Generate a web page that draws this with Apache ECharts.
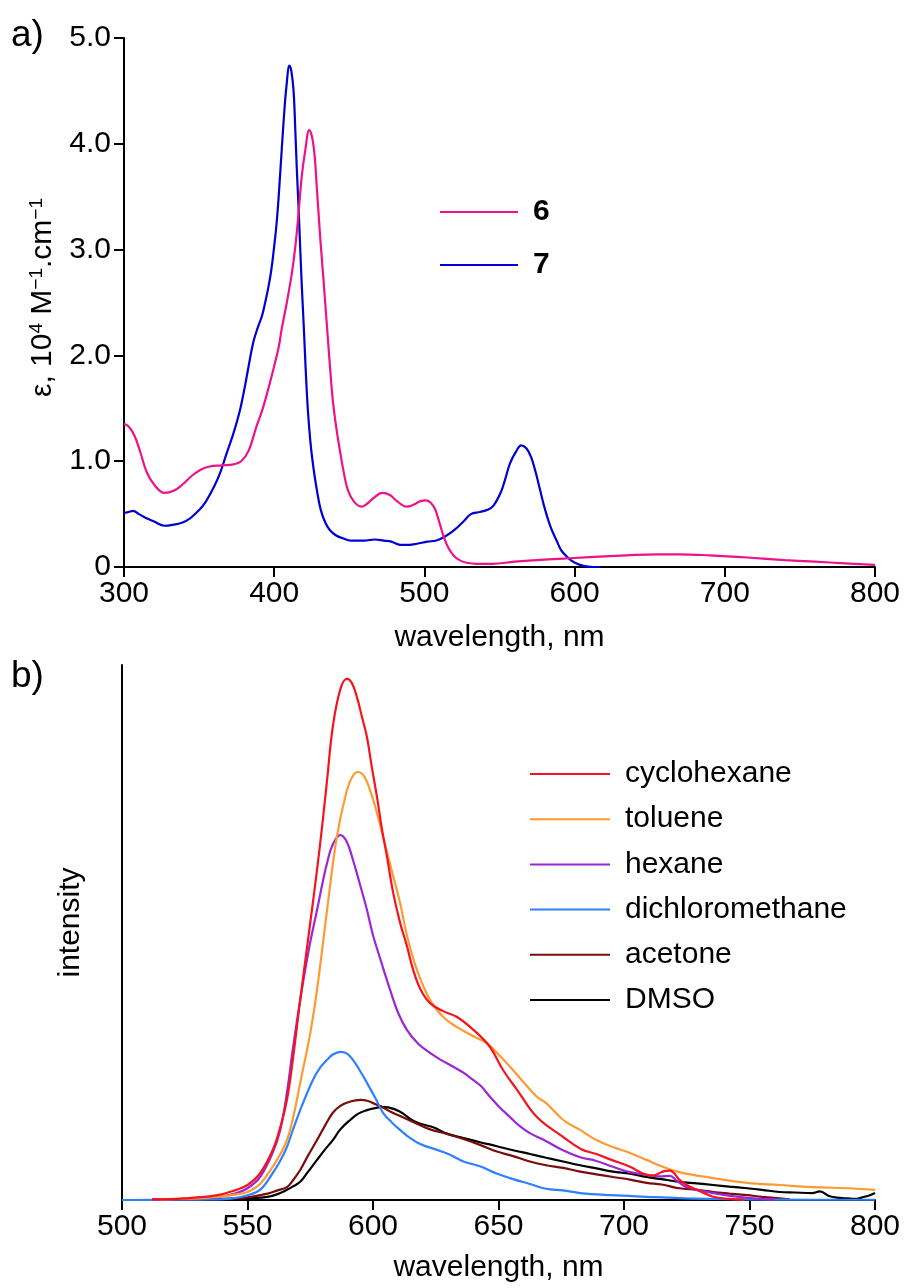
<!DOCTYPE html>
<html>
<head>
<meta charset="utf-8">
<script src="https://cdn.jsdelivr.net/npm/echarts@6/dist/echarts.min.js"></script>
<style>
html,body{margin:0;padding:0;background:#fff;}
#chart{width:906px;height:1288px;}
</style>
</head>
<body>
<div id="chart"></div>
<script>
// ---------- Panel a: absorption (epsilon, 10^4 M^-1 cm^-1) ----------
const absTicksX = [300, 400, 500, 600, 700, 800];
const absTicksY = [0, 1, 2, 3, 4, 5];

const s6_nm = [300,303,307,311,315,320,327,333,339,345,351,357,365,373,378,383,388,392,396,400,403,405,408.4,411.8,414,416,418.4,420.7,423.3,426.2,428.4,430.7,432.9,435,437,439,441.5,444,446.5,449,453,458,462,466,472,477,482,488,493,497,501,504,507,510,513,516,520,524,528,535,545,560,580,600,620,640,655,670,690,715,740,760,780,800];
const s6_eps = [1.35,1.33,1.24,1.08,0.90,0.78,0.70,0.72,0.78,0.86,0.92,0.95,0.96,0.97,1.00,1.10,1.32,1.48,1.68,1.90,2.08,2.25,2.50,2.78,3.02,3.31,3.70,3.94,4.13,3.98,3.58,3.10,2.70,2.30,1.92,1.58,1.30,1.08,0.88,0.73,0.62,0.57,0.60,0.65,0.70,0.68,0.62,0.57,0.59,0.62,0.63,0.61,0.55,0.42,0.28,0.18,0.10,0.06,0.04,0.03,0.03,0.05,0.07,0.085,0.10,0.115,0.12,0.12,0.11,0.09,0.065,0.05,0.035,0.02];

const s7_nm = [300,303,306,310,315,320,327,333,339,344,348,352,355,360,364,368,373,377,380,383,386,389,392,394,396.2,398,399.5,401.8,404,406.2,408.2,410.2,411.5,412.9,414,415,416.2,417.3,418.4,419.5,422,424,426,428.5,431,434,437,441,446,451,460,467,473,478,484,490,495,502,508,514,520,526,531,537,542,546,551,554,557,561,564.5,568,571,574,577,580,584,588,591,594,597,601,606,612,617];
const s7_eps = [0.51,0.52,0.53,0.50,0.46,0.43,0.39,0.40,0.42,0.46,0.51,0.57,0.63,0.76,0.89,1.06,1.27,1.47,1.67,1.90,2.12,2.26,2.38,2.50,2.65,2.80,2.97,3.28,3.72,4.20,4.55,4.74,4.68,4.50,4.15,3.78,3.40,3.02,2.65,2.33,1.58,1.20,0.95,0.72,0.54,0.42,0.35,0.30,0.27,0.25,0.25,0.26,0.25,0.24,0.21,0.21,0.22,0.24,0.25,0.29,0.35,0.43,0.50,0.52,0.54,0.58,0.71,0.84,0.98,1.09,1.15,1.12,1.04,0.90,0.73,0.56,0.38,0.25,0.16,0.11,0.07,0.035,0.01,0.0,0.0];

// ---------- Panel b: emission (intensity, arbitrary units) ----------
const emTicksX = [500, 550, 600, 650, 700, 750, 800];
const solvents = ['cyclohexane','toluene','hexane','dichloromethane','acetone','DMSO'];

const cyclohexane_nm = [512,525,538,545,550,555,560,563,565.7,568,571,574.5,577.7,580,581.7,584,587,589.6,591.5,593.6,595.5,597.6,599.5,601.6,603.5,605.6,608,610.8,613.5,616,619,622.7,628,633.5,640,646.6,651.8,657.4,665.3,675.7,683,689,695,702.4,709,712,714,716,718.3,720,722,725,729,735.5,742,748];
const cyclohexane_I = [0.1,0.3,0.9,1.8,2.8,5.0,9.3,13.5,18.7,26,37.4,50,61.7,71,78.5,88.5,95.5,97.4,96.7,94.0,90.5,86.5,81,75.3,69.5,64.1,57.5,51.8,47.5,43.0,39.3,36.8,35.3,34.2,31.8,28.6,24.3,20.6,15.5,11.8,9.5,8.6,7.5,6.2,4.7,4.6,5.0,5.4,5.5,5.0,3.8,2.8,1.9,0.6,0.2,0.0];

const toluene_nm = [515,530,538,545,550,555,560,563,565.7,568,571,575,577.7,581.7,585.6,589.6,592,594,596.5,598.8,601.5,604,607.5,610.8,613.5,617.5,622.7,628,633.5,640,645.4,650,654.6,660,665.3,669,675.7,682.5,689,695.6,702.4,709,715,722,735.5,749,762,775,789,800];
const toluene_I = [0.1,0.3,0.6,1.0,1.5,3.0,6.2,8.5,11.2,15,21.9,31.2,39.3,54.2,67.9,76.6,79.3,80.0,79.2,76.6,72.5,67.9,61.5,55.5,49.5,43.0,37.4,34.2,32.3,30.6,29.3,27.2,24.9,22,19.3,18.1,15.0,13.1,11.2,9.9,8.8,7.5,6.3,5.2,4.1,3.2,2.8,2.4,2.2,1.9];

const hexane_nm = [512,530,540,545,550,555,560,563,565.7,568,571,574.5,577.7,580,581.7,584,587,589.5,592,594.5,597.6,600,603,606.8,610,613.5,618,622.7,627,632,636,640,643,646.6,650.5,654.6,658.5,662.5,669,675.7,682.5,689,695.6,702.4,709,714,718.3,721,725,735.5,749,760];
const hexane_I = [0.1,0.3,0.7,1.2,2.2,4.3,8.8,13,20.0,28,37.4,47,54.2,59.5,63,66.5,68.2,67,63.6,59.5,54.2,49.5,44.9,39.3,35,31.8,29.2,27.5,26.2,24.9,23.8,22.4,21.3,19.3,17.3,15.5,13.8,12.5,11.0,9.3,8.0,7.3,6.2,5.2,4.7,4.4,4.5,3.6,2.4,1.3,0.4,0.1];

const dichloromethane_nm = [500,520,535,544,550,555,560,563,565.7,568,571,576,579,581.7,584,587,589.5,592,594.5,597.6,601,604,607.5,610.8,614.7,619,624,630,636,642.6,649,655.8,662.5,669,675.7,682.5,695,709,722,735.5,750,775,800];
const dichloromethane_I = [0,0.05,0.1,0.3,0.9,1.9,5.0,7.3,9.9,13,16.8,22.4,24.8,26.2,27.2,27.7,27.4,26.2,24.4,21.9,19,16.3,14.5,13.1,11.6,10.4,9.6,8.6,7.2,6.3,5.0,3.9,3.0,2.1,1.8,1.3,0.9,0.6,0.35,0.2,0.1,0.05,0.05];

const acetone_nm = [512,530,545,550,558,562,565.7,568,571,574,577.7,581,584,587,591,595,598,601,604,607,610.8,616,622.7,629,636,642.6,649,655.8,662.5,669,675.7,682.5,689,695.6,702.4,709,715,722,729,735.5,742,749,755,762,766];
const acetone_I = [0.05,0.15,0.3,0.5,1.2,1.8,2.4,3.6,5.6,8.2,11.2,14.0,16.3,17.6,18.4,18.7,18.5,17.9,17.3,16.5,15.7,14.6,13.2,12.4,11.4,10.3,9.1,8.2,7.2,6.5,6.0,5.3,4.8,4.3,3.8,3.2,2.9,2.2,1.9,1.5,1.2,0.9,0.6,0.3,0.1];

const dmso_nm = [512,530,545,550,558,562,565.7,568,571,574,577.7,581,584,587,591,594,597.6,601,603.5,606,610.8,616,620,624,629.5,636,642.6,649,655.8,662.5,669,675.7,682.5,689,695.6,702.4,709,715,722,729,735.5,742,749,755,762,768,775,778,782,786,789,792,795,798,800];
const dmso_I = [0.05,0.1,0.2,0.3,0.6,1.1,1.9,2.5,3.4,5.2,7.5,9.5,11.2,13.2,15.0,16.1,16.8,17.2,17.4,17.3,16.5,14.8,14.1,13.6,12.4,11.6,10.8,10.1,9.3,8.6,7.9,7.2,6.5,5.9,5.3,4.9,4.3,3.9,3.4,3.1,2.8,2.5,2.2,1.9,1.5,1.4,1.3,1.6,0.7,0.4,0.3,0.2,0.5,0.9,1.3];

// ---------- build ----------
const zip = (xs, ys) => xs.map((x, i) => [x, ys[i]]);
const FONT = '"Liberation Sans", Arial, Helvetica, sans-serif';

const emData = {
  cyclohexane: zip(cyclohexane_nm, cyclohexane_I),
  toluene: zip(toluene_nm, toluene_I),
  hexane: zip(hexane_nm, hexane_I),
  dichloromethane: zip(dichloromethane_nm, dichloromethane_I),
  acetone: zip(acetone_nm, acetone_I),
  DMSO: zip(dmso_nm, dmso_I)
};
const emColors = {
  cyclohexane: '#f5141e',
  toluene: '#ff9a33',
  hexane: '#9b26d6',
  dichloromethane: '#2f80ff',
  acetone: '#7a0c0c',
  DMSO: '#000000'
};

const axisLineStyle = { show: true, lineStyle: { color: '#000', width: 2 } };
const tickStyle = { show: true, inside: false, length: 10, lineStyle: { color: '#000', width: 2 } };
const labelStyle = { fontSize: 30, color: '#000', fontFamily: FONT };

const chart = echarts.init(document.getElementById('chart'), null, { renderer: 'canvas' });

const lineSeries = (name, data, color, xi, yi, z) => ({
  name, type: 'line', data, xAxisIndex: xi, yAxisIndex: yi,
  showSymbol: false, symbol: 'none', smooth: 0.4, z: z,
  lineStyle: { color, width: 2.2 }, itemStyle: { color },
  emphasis: { disabled: true }, animation: false
});

const option = {
  backgroundColor: '#fff',
  animation: false,
  textStyle: { fontFamily: FONT },
  grid: [
    { left: 124, right: 31, top: 38, height: 529 },
    { left: 122, right: 31, top: 665, height: 535 }
  ],
  xAxis: [
    {
      gridIndex: 0, type: 'value', min: absTicksX[0], max: absTicksX[absTicksX.length - 1], interval: 100,
      axisLine: axisLineStyle, axisTick: tickStyle, splitLine: { show: false },
      axisLabel: Object.assign({ margin: 12 }, labelStyle),
      name: 'wavelength, nm', nameLocation: 'middle', nameGap: 56,
      nameTextStyle: { fontSize: 30, color: '#000', fontFamily: FONT }
    },
    {
      gridIndex: 1, type: 'value', min: emTicksX[0], max: emTicksX[emTicksX.length - 1], interval: 50,
      axisLine: axisLineStyle, axisTick: tickStyle, splitLine: { show: false },
      axisLabel: Object.assign({ margin: 12 }, labelStyle),
      name: 'wavelength, nm', nameLocation: 'middle', nameGap: 53,
      nameTextStyle: { fontSize: 30, color: '#000', fontFamily: FONT }
    }
  ],
  yAxis: [
    {
      gridIndex: 0, type: 'value', min: absTicksY[0], max: absTicksY[absTicksY.length - 1], interval: 1,
      axisLine: axisLineStyle, axisTick: tickStyle, splitLine: { show: false },
      axisLabel: Object.assign({ margin: 13, formatter: v => (v === 0 ? '0' : v.toFixed(1)) }, labelStyle),
      name: 'ε, 10{sup|4} M{sup|−1}.cm{sup|−1}', nameLocation: 'middle', nameGap: 66,
      nameTextStyle: {
        fontSize: 30, color: '#000', fontFamily: FONT, padding: [0, 0, 0, 10],
        rich: { sup: { fontSize: 19, color: '#000', fontFamily: FONT, verticalAlign: 'top', padding: [0, 0, 12, 0] } }
      }
    },
    {
      gridIndex: 1, type: 'value', min: 0, max: 100,
      axisLine: axisLineStyle, axisTick: { show: false }, splitLine: { show: false },
      axisLabel: { show: false },
      name: 'intensity', nameLocation: 'middle', nameGap: 36,
      nameTextStyle: { fontSize: 30, color: '#000', fontFamily: FONT, padding: [0, 0, 0, 20] }
    }
  ],
  legend: [
    {
      data: ['6', '7'], left: 440, top: 197, orient: 'vertical',
      itemWidth: 78, itemHeight: 2, itemGap: 23, icon: 'rect', padding: 0,
      textStyle: { fontSize: 30, fontWeight: 'bold', color: '#000', fontFamily: FONT, lineHeight: 30, padding: [0, 0, 0, 10] },
      selectedMode: false
    },
    {
      data: solvents, left: 530, top: 759, orient: 'vertical',
      itemWidth: 80, itemHeight: 2, itemGap: 15.2, icon: 'rect', padding: 0,
      textStyle: { fontSize: 30, color: '#000', fontFamily: FONT, lineHeight: 30, padding: [0, 0, 0, 10] },
      selectedMode: false
    }
  ],
  graphic: [
    { type: 'text', left: 11, top: 17, style: { text: 'a)', fontSize: 37, fill: '#000', fontFamily: FONT } },
    { type: 'text', left: 11, top: 658, style: { text: 'b)', fontSize: 37, fill: '#000', fontFamily: FONT } }
  ],
  series: [
    lineSeries('6', zip(s6_nm, s6_eps), '#ee1289', 0, 0, 3),
    lineSeries('7', zip(s7_nm, s7_eps), '#0000d2', 0, 0, 2)
  ].concat(solvents.slice().reverse().map((s, i) => lineSeries(s, emData[s], emColors[s], 1, 1, 2 + i)))
};

chart.setOption(option);
</script>
</body>
</html>
